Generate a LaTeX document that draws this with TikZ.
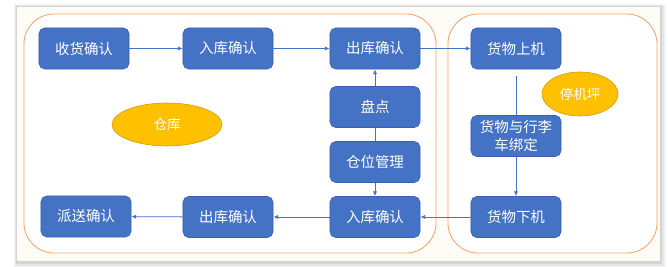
\documentclass[tikz,border=0pt]{standalone}
\usepackage{fontspec}
\newfontfamily\cjk{Noto Sans CJK SC}
\usetikzlibrary{arrows.meta,shapes.geometric}
\definecolor{boxblue}{HTML}{4472C4}
\definecolor{boxedge}{HTML}{3A62AC}
\definecolor{zoneorange}{HTML}{F4A36A}
\definecolor{padyellow}{HTML}{FFC000}
\definecolor{padedge}{HTML}{C9A000}
\definecolor{paper}{HTML}{FDFCF7}
\begin{document}
\begin{tikzpicture}[x=0.025cm,y=-0.025cm,
  stepbox/.style={draw=boxedge, line width=0.4pt, fill=boxblue, rounded corners=4pt,
    minimum width=2.25cm, minimum height=1.025cm, inner sep=1pt, text=white,
    font=\cjk\fontsize{10.3}{13}\selectfont, align=center},
  place/.style={ellipse, draw=padedge, line width=0.4pt, fill=padyellow, inner sep=0pt,
    text=white, font=\cjk\fontsize{9.6}{12}\selectfont},
  zone/.style={draw=zoneorange, fill=white, line width=0.6pt, rounded corners=0.75cm},
  flow/.style={draw=boxblue, line width=0.6pt, -{Latex[length=3.5pt,width=3pt]}},
  link/.style={draw=boxblue, line width=0.6pt}]
\useasboundingbox (0,0) rectangle (668,267);
\fill[white] (0,0) rectangle (668,267);
\foreach \s/\o in {6/0.04,4/0.06,2/0.08}
  \fill[black, opacity=\o] (17-\s/2,7-\s/2) rectangle (660+\s,262+\s);
\fill[paper] (17,7) rectangle (660,261);
\draw[zone] (24,14) rectangle (436,253);
\draw[zone] (448,14) rectangle (657,253);
\node[stepbox] (shouhuo) at (84,48.5) {收货确认};
\node[stepbox] (ruku1) at (228,48.5) {入库确认};
\node[stepbox] (chuku1) at (375,48.5) {出库确认};
\node[stepbox] (pandian) at (375,107) {盘点};
\node[stepbox] (cangwei) at (375,162) {仓位管理};
\node[stepbox] (ruku2) at (375,217) {入库确认};
\node[stepbox] (chuku2) at (228,217) {出库确认};
\node[stepbox] (paisong) at (86,216.5) {派送确认};
\node[stepbox] (shangji) at (516,48.5) {货物上机};
\node[stepbox] (bangding) at (516,136) {货物与行李\\车绑定};
\node[stepbox] (xiaji) at (516,217) {货物下机};
\node[place, minimum width=2.75cm, minimum height=1.075cm] (cangku) at (167,124.5) {仓库};
\node[place, minimum width=1.9cm, minimum height=1.1cm] (tingjiping) at (580,94) {停机坪};
\draw[flow] (shouhuo) -- (ruku1);
\draw[flow] (ruku1) -- (chuku1);
\draw[flow] (chuku1) -- (shangji);
\draw[flow] (pandian) -- (chuku1);
\draw[link] (pandian) -- (cangwei);
\draw[flow] (cangwei) -- (ruku2);
\draw[link, shorten <=5pt] (shangji) -- (bangding);
\draw[flow] (bangding) -- (xiaji);
\draw[flow] (xiaji) -- (ruku2);
\draw[flow] (ruku2) -- (chuku2);
\draw[flow] (chuku2) -- (paisong);
\end{tikzpicture}
\end{document}
